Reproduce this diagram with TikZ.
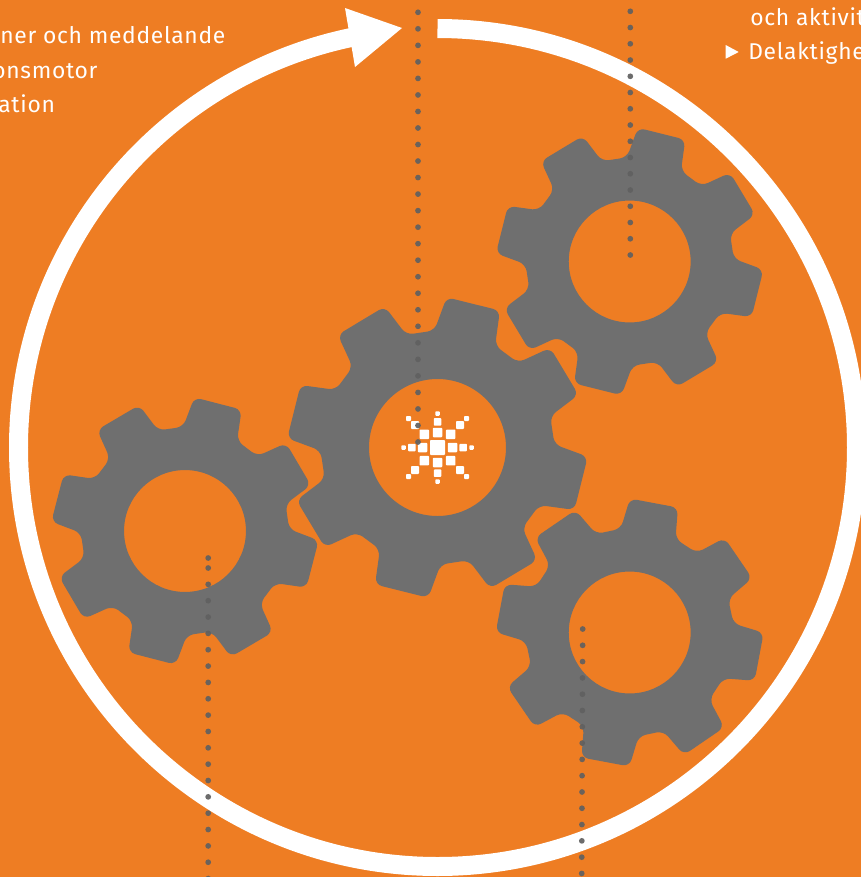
\documentclass[tikz,border=0pt]{standalone}
\usepackage{fontspec}
\setmainfont[LetterSpace=3,Ligatures=NoCommon]{Fira Sans}
\usepackage{tikz}

\definecolor{bgorange}{HTML}{EE7D23}
\definecolor{geargray}{HTML}{6F6F6F}
\definecolor{dotgray}{HTML}{606060}

\newcommand{\gearwheel}[4]{
\coordinate (#1) at (#2);
\fill[gearbody] ([shift={(#4:150.5*#3*0.983)}]#1)
 \foreach \k in {0,...,7} {
  -- ([shift={(#4+\k*45+10.5:150.5*#3)}]#1)
  -- ([shift={(#4+\k*45+15.5:117*#3)}]#1)
  -- ([shift={(#4+\k*45+29.5:117*#3)}]#1)
  -- ([shift={(#4+\k*45+34.5:150.5*#3)}]#1)
 } -- cycle
 (#1) circle (68.5*#3);
}
\newcommand{\logobit}[3]{
\fill[logosquare] ([shift={(#1-#3/2,#2-#3/2)}]hub) rectangle ([shift={(#1+#3/2,#2+#3/2)}]hub);
}

\begin{document}
\begin{tikzpicture}[x=0.02cm,y=0.02cm]
 \tikzstyle{gearbody}=[fill=geargray,even odd rule,rounded corners=4pt]
 \tikzstyle{ring}=[draw=white,line width=0.38cm]
 \tikzstyle{logosquare}=[fill=white,rounded corners=0.45pt]
 \tikzstyle{dotline}=[draw=dotgray,opacity=0.92,line width=0.115cm,line cap=round,dash pattern=on 0pt off 0.327cm]
 \tikzstyle{textline}=[text=white,font=\fontsize{13}{15}\selectfont,anchor=base west,inner sep=0pt]

\useasboundingbox (0,0) rectangle (861,-877);
\fill[bgorange] (0,0) rectangle (861,-877);

\coordinate (start) at (437.5,-28.5);
\coordinate (tip) at (402,-28);
\coordinate (headup) at (345,-8);
\coordinate (headdown) at (355,-67);
\draw[ring] (start) arc[start angle=90,end angle=-259,radius=419];
\fill[white] (tip) -- (headup) -- (headdown) -- cycle;

\gearwheel{gearmain}{437.5,-447.5}{1}{76}
\gearwheel{geartop}{629.7,-261.5}{0.89}{76}
\gearwheel{gearright}{629.7,-632.5}{0.89}{79.4}
\gearwheel{gearleft}{185,-531}{0.89}{75.5}

\coordinate (hub) at (437.5,-447.5);
\logobit{0}{0}{15}
\foreach \d/\s in {15/9.5,25.7/7.5,34/4.5} {
 \logobit{\d}{0}{\s}
 \logobit{-\d}{0}{\s}
 \logobit{0}{\d}{\s}
 \logobit{0}{-\d}{\s}
}
\foreach \d/\s in {13.2/9.5,22.5/8,29/5} {
 \logobit{\d}{\d}{\s}
 \logobit{-\d}{\d}{\s}
 \logobit{\d}{-\d}{\s}
 \logobit{-\d}{-\d}{\s}
}

\coordinate (da) at (418,-12.3);
\coordinate (db) at (418,-443);
\coordinate (dc) at (630.3,-11.3);
\coordinate (dd) at (630.3,-257);
\coordinate (de) at (208.2,-558);
\coordinate (df) at (208.2,-565);
\coordinate (dg) at (208.2,-568);
\coordinate (dh) at (208.2,-880);
\coordinate (di) at (582.7,-629);
\coordinate (dj) at (581.7,-875);
\draw[dotline,dash pattern=on 0pt off 0.3306cm] (da) -- (db);
\draw[dotline,dash pattern=on 0pt off 0.325cm] (dc) -- (dd);
\draw[dotline] (de) -- (df);
\draw[dotline] (dg) -- (dh);
\draw[dotline,dash pattern=on 0pt off 0.326cm] (di) -- (dj);

\node (lineone) [textline] at (0,-43) {ner och meddelande};
\node (linetwo) [textline] at (-8,-78) {onsmotor};
\node (linethree) [textline] at (-2,-112.5) {ation};
\node (lineright) [textline] at (750,-25) {och aktivit};
\node (linepart) [textline] at (748,-59.5) {Delaktighe};

\coordinate (marka) at (725.7,-45);
\coordinate (markb) at (725.7,-58.7);
\coordinate (markc) at (738.7,-52);
\fill[white] (marka) -- (markb) -- (markc) -- cycle;

\end{tikzpicture}
\end{document}
